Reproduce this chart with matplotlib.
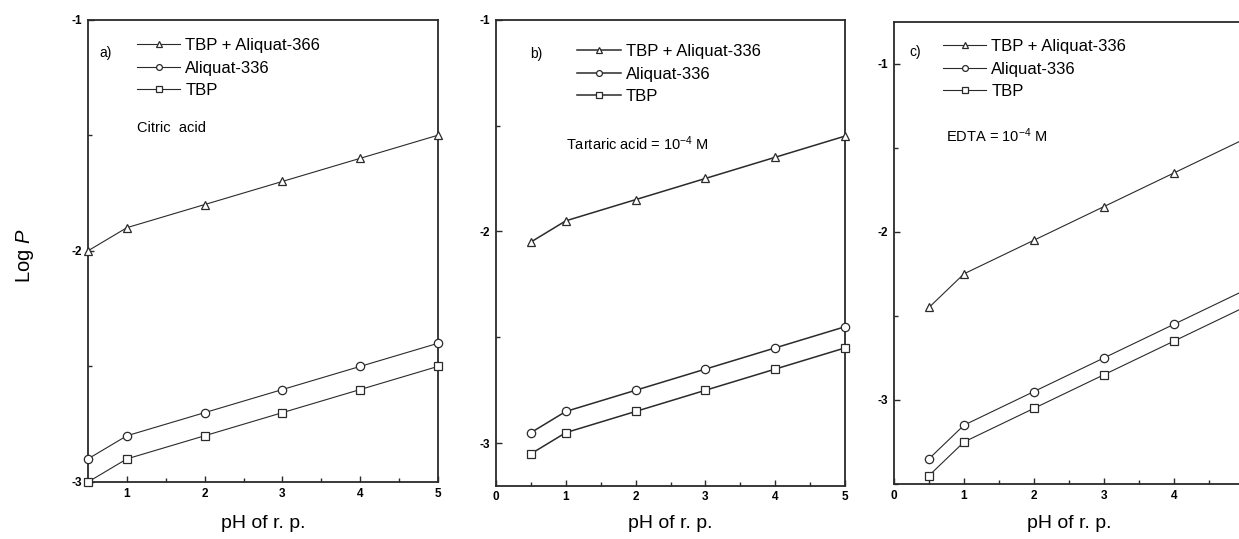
import numpy as np
import matplotlib
matplotlib.use("Agg")
import matplotlib.pyplot as plt
from matplotlib.ticker import MultipleLocator

plt.rcParams['font.family'] = ['Liberation Sans', 'DejaVu Sans']
plt.rcParams['axes.unicode_minus'] = False
plt.rcParams['mathtext.fontset'] = 'custom'
plt.rcParams['mathtext.rm'] = 'Liberation Sans'
plt.rcParams['mathtext.it'] = 'Liberation Sans:italic'

# pH of the receiving phase
ph = [0.5, 1, 2, 3, 4, 5]

# a) citric acid
a_tbp_ali = [-2.0, -1.9, -1.8, -1.7, -1.6, -1.5]
a_ali = [-2.9, -2.8, -2.7, -2.6, -2.5, -2.4]
a_tbp = [-3.0, -2.9, -2.8, -2.7, -2.6, -2.5]

# b) tartaric acid
b_tbp_ali = [-2.05, -1.95, -1.85, -1.75, -1.65, -1.55]
b_ali = [-2.95, -2.85, -2.75, -2.65, -2.55, -2.45]
b_tbp = [-3.05, -2.95, -2.85, -2.75, -2.65, -2.55]

# c) EDTA
c_tbp_ali = [-2.45, -2.25, -2.05, -1.85, -1.65, -1.45]
c_ali = [-3.35, -3.15, -2.95, -2.75, -2.55, -2.35]
c_tbp = [-3.45, -3.25, -3.05, -2.85, -2.65, -2.45]

labels_a = ['TBP + Aliquat-366', 'Aliquat-336', 'TBP']
labels_bc = ['TBP + Aliquat-336', 'Aliquat-336', 'TBP']

W, H = 1239, 539
ink = '#2a2a2a'


def box(left, right, top, bottom):
    return [left / W, (H - bottom) / H, (right - left) / W, (bottom - top) / H]


def panel(ax, series, labels, xlim, ylim, xticks, lw, tag, note, note_xy, leg_xy):
    marks = ['^', 'o', 's']
    sizes = [6, 6, 5.5]
    for y, lab, m, s in zip(series, labels, marks, sizes):
        ax.plot(ph, y, color=ink, lw=lw, marker=m, ms=s, mfc='white',
                mec=ink, mew=0.9, label=lab, clip_on=False, zorder=3)
    ax.set_xlim(*xlim)
    ax.set_ylim(*ylim)
    ax.set_xticks(xticks)
    ax.set_yticks([-1, -2, -3])
    ax.xaxis.set_minor_locator(MultipleLocator(0.5))
    ax.yaxis.set_minor_locator(MultipleLocator(0.5))
    ax.tick_params(which='both', direction='in', color=ink, width=1.0,
                   labelsize=8.5, pad=4)
    ax.tick_params(which='major', length=4.5)
    ax.tick_params(which='minor', length=3)
    for t in ax.get_xticklabels() + ax.get_yticklabels():
        t.set_fontweight('bold')
    for sp in ax.spines.values():
        sp.set_color(ink)
        sp.set_linewidth(1.3)
    ax.legend(loc='upper left', bbox_to_anchor=leg_xy, frameon=False,
              fontsize=12, handlelength=2.6, handletextpad=0.3,
              labelspacing=0.45, borderpad=0, borderaxespad=0,
              markerscale=0.7)
    ax.text(tag[0], tag[1], tag[2], transform=ax.transAxes, fontsize=10,
            va='center', ha='left')
    ax.text(note_xy[0], note_xy[1], note, transform=ax.transAxes,
            fontsize=10.5, va='center', ha='left')


fig = plt.figure(figsize=(W / 100, H / 100), dpi=100)

ax_a = fig.add_axes(box(88, 438, 19.6, 482))
ax_b = fig.add_axes(box(496, 845, 19.6, 485.6))
ax_c = fig.add_axes(box(894, 1244, 21.6, 484))

panel(ax_a, [a_tbp_ali, a_ali, a_tbp], labels_a, (0.5, 5), (-3, -1),
      [1, 2, 3, 4, 5], 0.8, (0.032, 0.928, 'a)'), 'Citric  acid',
      (0.14, 0.765), (0.14, 0.96))
panel(ax_b, [b_tbp_ali, b_ali, b_tbp], labels_bc, (0, 5), (-3.2, -1),
      [0, 1, 2, 3, 4, 5], 1.1, (0.097, 0.927, 'b)'),
      'Tartaric acid = 10$^{\\mathrm{-4}}$ M', (0.20, 0.733), (0.233, 0.947))
panel(ax_c, [c_tbp_ali, c_ali, c_tbp], labels_bc, (0, 5), (-3.5, -0.75),
      [0, 1, 2, 3, 4], 0.8, (0.045, 0.935, 'c)'),
      'EDTA = 10$^{\\mathrm{-4}}$ M', (0.15, 0.753), (0.14, 0.962))

for ax in (ax_a, ax_b, ax_c):
    bb = ax.get_position()
    fig.text((bb.x0 + bb.x1) / 2, 1 - 523 / H, 'pH of r. p.', fontsize=14,
             ha='center', va='center')

fig.text(25 / W, 1 - 256 / H, 'Log $\\it{P}$', rotation=90, fontsize=14.5,
         ha='center', va='center')

fig.savefig('out.png', dpi=100)
